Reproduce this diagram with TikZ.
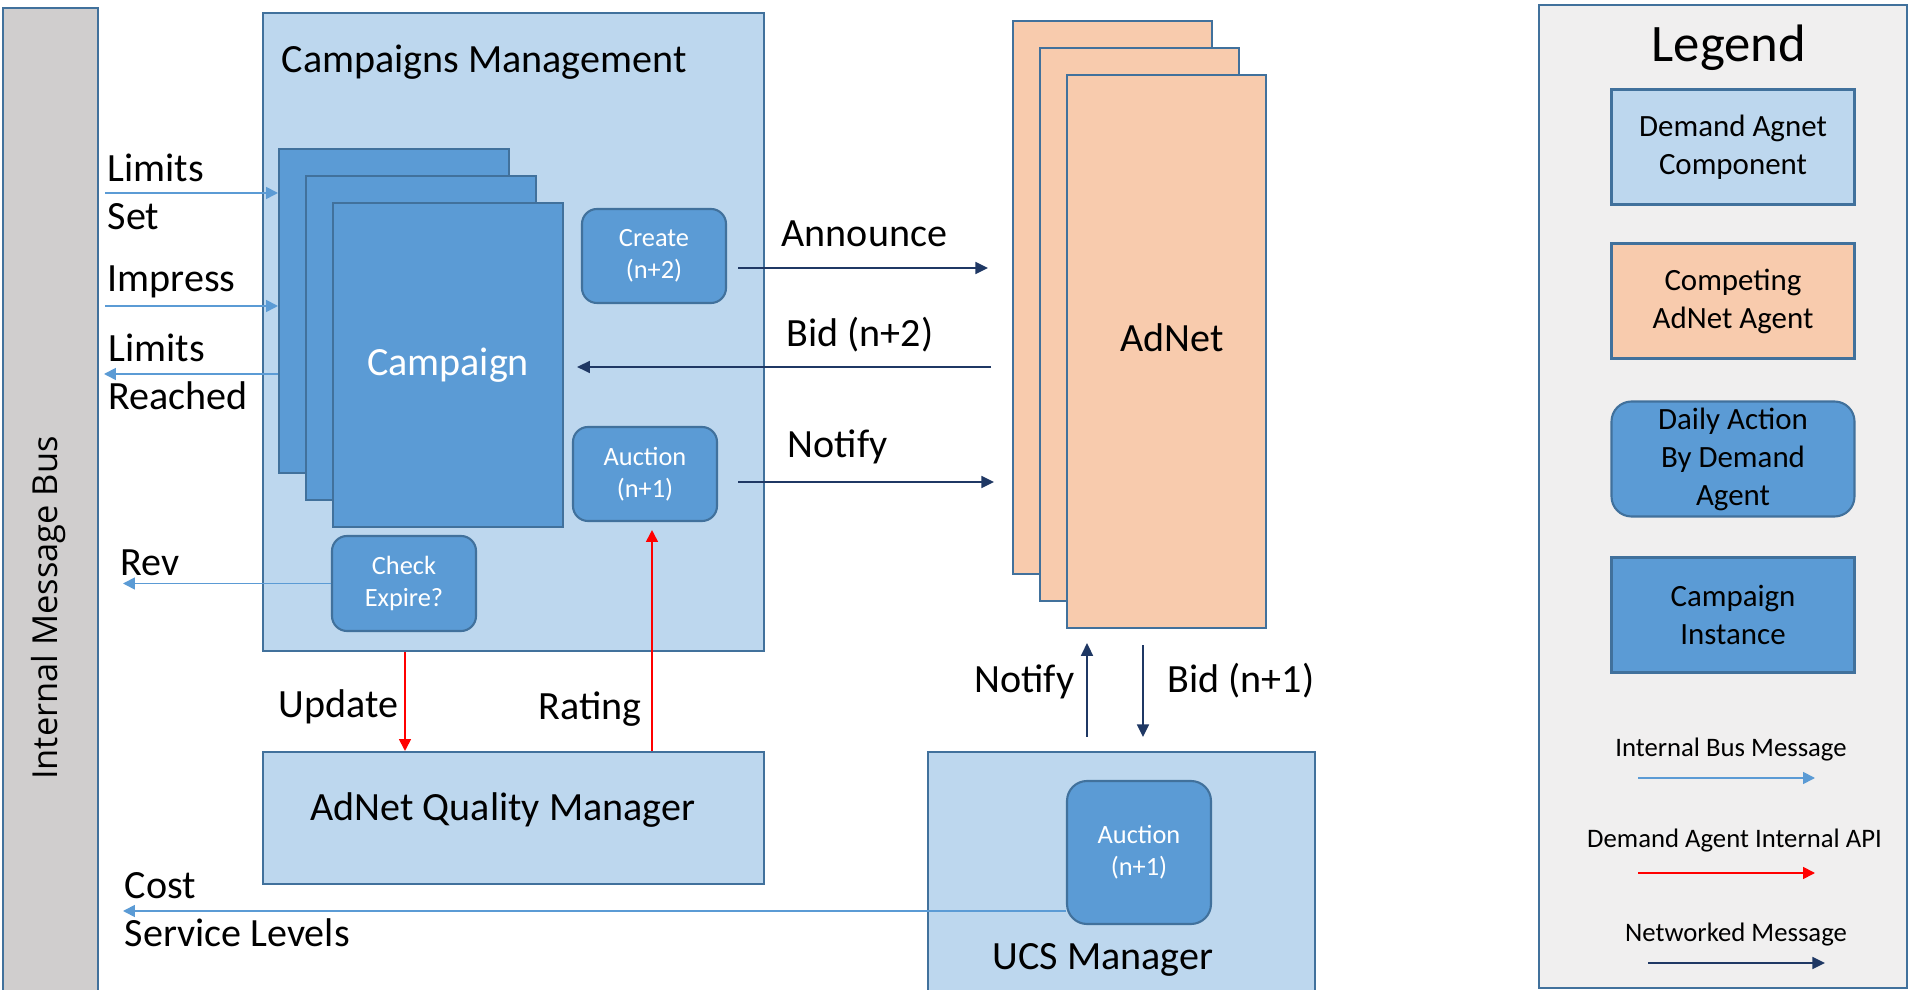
\documentclass[tikz,border=0pt]{standalone}
\usepackage{fontspec}
\setmainfont{Carlito}
\newfontfamily\busfont{Open Sans}
\usetikzlibrary{arrows.meta}

\definecolor{compblue}{HTML}{BDD7EE}
\definecolor{campblue}{HTML}{5B9BD5}
\definecolor{edgeblue}{HTML}{41719C}
\definecolor{adpeach}{HTML}{F8CBAD}
\definecolor{busgray}{HTML}{D0CECE}
\definecolor{legendgray}{HTML}{F0EFEF}
\definecolor{navy}{HTML}{1F3864}

\newcommand{\txtmain}{\fontsize{11.4}{13.7}\selectfont}
\newcommand{\txtsmall}{\fontsize{7.5}{9}\selectfont}
\newcommand{\txtkey}{\fontsize{8.8}{10.8}\selectfont}
\newcommand{\txtkeylbl}{\fontsize{7.6}{9}\selectfont}

\begin{document}
\begin{tikzpicture}[
		box/.style={draw=edgeblue, line width=0.6pt, inner sep=0pt, anchor=north west},
		comp/.style={box, fill=compblue},
		daily/.style={draw=edgeblue, line width=0.6pt, fill=campblue, rounded corners=0.15cm,
			text=white, align=center, font=\txtsmall, inner sep=0pt,
			minimum width=1.44cm, minimum height=0.94cm},
		keyitem/.style={draw=edgeblue, line width=0.6pt, align=center, font=\txtkey,
			inner sep=0pt, minimum width=2.43cm, minimum height=1.15cm},
		lbl/.style={font=\txtmain, inner sep=0pt, align=left},
		busarrow/.style={draw=campblue, line width=0.5pt, -{Triangle[length=3.4pt,width=3.4pt]}},
		apiarrow/.style={draw=red, line width=0.5pt, -{Triangle[length=3.4pt,width=3.4pt]}},
		netarrow/.style={draw=navy, line width=0.5pt, -{Triangle[length=3.6pt,width=3.4pt]}},
	]
	\path[use as bounding box, fill=white] (0,0) rectangle (19.13,9.90);

	% message bus on the left edge
	\node[box, fill=busgray, minimum width=0.95cm, minimum height=10cm] (bus) at (0.02,9.83) {};
	\node[rotate=90, font=\busfont\fontsize{9.8}{12}\selectfont] (buslbl) at (0.49,3.82) {Internal Message Bus};

	% campaigns management
	\node[comp, minimum width=5.01cm, minimum height=6.38cm] (cm) at (2.62,9.78) {};
	\node[lbl, anchor=base west] (cmlbl) at (2.81,9.17) {Campaigns Management};
	\foreach \i in {0,1,2}
		\node[box, fill=campblue, minimum width=2.30cm, minimum height=3.24cm] (camp\i)
			at (2.78+0.27*\i, 8.42-0.27*\i) {};
	\node[font=\txtmain, text=white] (camplbl) at (camp2) {Campaign};
	\node[daily] (create) at (6.54,7.34) {Create\\(n+2)};
	\node[daily] (cmauction) at (6.45,5.16) {Auction\\(n+1)};
	\node[daily, minimum height=0.95cm] (check) at (4.04,4.065) {Check\\Expire?};

	% quality manager
	\node[comp, minimum width=5.01cm, minimum height=1.32cm] (aqm) at (2.62,2.39) {};
	\node[lbl] (aqmlbl) at (5.03,1.80) {AdNet Quality Manager};

	% competing adnets
	\foreach \i in {0,1,2}
		\node[box, fill=adpeach, minimum width=1.99cm, minimum height=5.53cm] (ad\i)
			at (10.12+0.27*\i, 9.70-0.27*\i) {};
	\node[font=\txtmain] (adlbl) at (11.72,6.52) {AdNet};

	% ucs manager
	\node[comp, minimum width=3.87cm, minimum height=2.6cm] (ucs) at (9.27,2.39) {};
	\node[daily, minimum height=1.43cm, rounded corners=0.2cm] (ucsauction) at (11.39,1.375) {Auction\\(n+1)};
	\node[lbl, anchor=base] (ucslbl) at (11.03,0.20) {UCS Manager};

	% bus messages (two-line labels sit on their lower line)
	\coordinate (limset) at (1.05,7.97);
	\coordinate (impress) at (1.05,6.84);
	\coordinate (limreach) at (1.04,6.16);
	\coordinate (rev) at (1.23,4.065);
	\coordinate (cost) at (1.23,0.79);
	\draw[busarrow] (limset) -- (limset -| camp0.west);
	\draw[busarrow] (impress) -- (impress -| camp0.west);
	\draw[busarrow] (limreach -| camp0.west) -- (limreach);
	\draw[busarrow] (check.west) -- (rev);
	\draw[busarrow] (cost -| ucsauction.west) -- (cost);
	\node[lbl, anchor=base west] (limsetlbl) at (1.07,7.60) {Limits\\Set};
	\node[lbl, anchor=base west] (impresslbl) at (1.07,6.98) {Impress};
	\node[lbl, anchor=base west] (limreachlbl) at (1.08,5.80) {Limits\\Reached};
	\node[lbl, anchor=base west] (revlbl) at (1.20,4.14) {Rev};
	\node[lbl, anchor=base west] (costlbl) at (1.24,0.43) {Cost\\Service Levels};

	% internal api calls
	\coordinate (upd) at (4.05,0);
	\coordinate (rate) at (6.52,0);
	\draw[apiarrow] (upd |- cm.south) -- (upd |- aqm.north);
	\draw[apiarrow, shorten >=0.08cm] (rate |- aqm.north) -- (rate |- cmauction.south);
	\node[lbl, anchor=base west] (updlbl) at (2.78,2.72) {Update};
	\node[lbl, anchor=base east] (ratelbl) at (6.42,2.70) {Rating};

	% networked messages
	\coordinate (annc) at (0,7.22);
	\coordinate (bidtwo) at (0,6.23);
	\coordinate (ntfy) at (0,5.08);
	\coordinate (ntfyup) at (10.87,0);
	\coordinate (bidone) at (11.43,0);
	\draw[netarrow, shorten <=0.11cm, shorten >=0.24cm] (create.east |- annc) -- (ad0.west |- annc);
	\draw[netarrow, shorten <=0.21cm, shorten >=0.13cm] (ad0.west |- bidtwo) -- (camp2.east |- bidtwo);
	\draw[netarrow, shorten <=0.20cm, shorten >=0.18cm] (cmauction.east |- ntfy) -- (ad0.west |- ntfy);
	\draw[netarrow, shorten <=0.14cm, shorten >=0.14cm] (ntfyup |- ucs.north) -- (ntfyup |- ad2.south);
	\draw[netarrow, shorten <=0.16cm, shorten >=0.14cm] (bidone |- ad2.south) -- (bidone |- ucs.north);
	\node[lbl, anchor=base west] (annclbl) at (7.81,7.43) {Announce};
	\node[lbl, anchor=base west] (bidtwolbl) at (7.86,6.43) {Bid (n+2)};
	\node[lbl, anchor=base west] (ntfylbl) at (7.87,5.32) {Notify};
	\node[lbl, anchor=base east] (ntfyuplbl) at (10.75,2.97) {Notify};
	\node[lbl, anchor=base west] (bidonelbl) at (11.67,2.97) {Bid (n+1)};

	% legend
	\node[box, fill=legendgray, minimum width=3.68cm, minimum height=9.83cm] (legend) at (15.38,9.86) {};
	\node[font=\fontsize{15}{18}\selectfont, anchor=base] (legendlbl) at (17.29,9.28) {Legend};
	\node[keyitem, fill=compblue] (keycomp) at (17.33,8.43) {Demand Agnet\\Component};
	\node[keyitem, fill=adpeach] (keyadnet) at (17.33,6.89) {Competing\\AdNet Agent};
	\node[keyitem, fill=campblue, rounded corners=0.2cm] (keydaily) at (17.33,5.31) {Daily Action\\By Demand\\Agent};
	\node[keyitem, fill=campblue] (keycamp) at (17.33,3.75) {Campaign\\Instance};

	\node[font=\txtkeylbl, anchor=base] (keybuslbl) at (17.31,2.33) {Internal Bus Message};
	\node[font=\txtkeylbl, anchor=base] (keyapilbl) at (17.345,1.42) {Demand Agent Internal API};
	\node[font=\txtkeylbl, anchor=base] (keynetlbl) at (17.36,0.48) {Networked Message};
	\coordinate (keybusa) at (16.38,2.12);
	\coordinate (keybusb) at (18.15,2.12);
	\coordinate (keyapia) at (16.38,1.17);
	\coordinate (keyapib) at (18.15,1.17);
	\coordinate (keyneta) at (16.48,0.27);
	\coordinate (keynetb) at (18.25,0.27);
	\draw[busarrow] (keybusa) -- (keybusb);
	\draw[apiarrow] (keyapia) -- (keyapib);
	\draw[netarrow] (keyneta) -- (keynetb);
\end{tikzpicture}
\end{document}
